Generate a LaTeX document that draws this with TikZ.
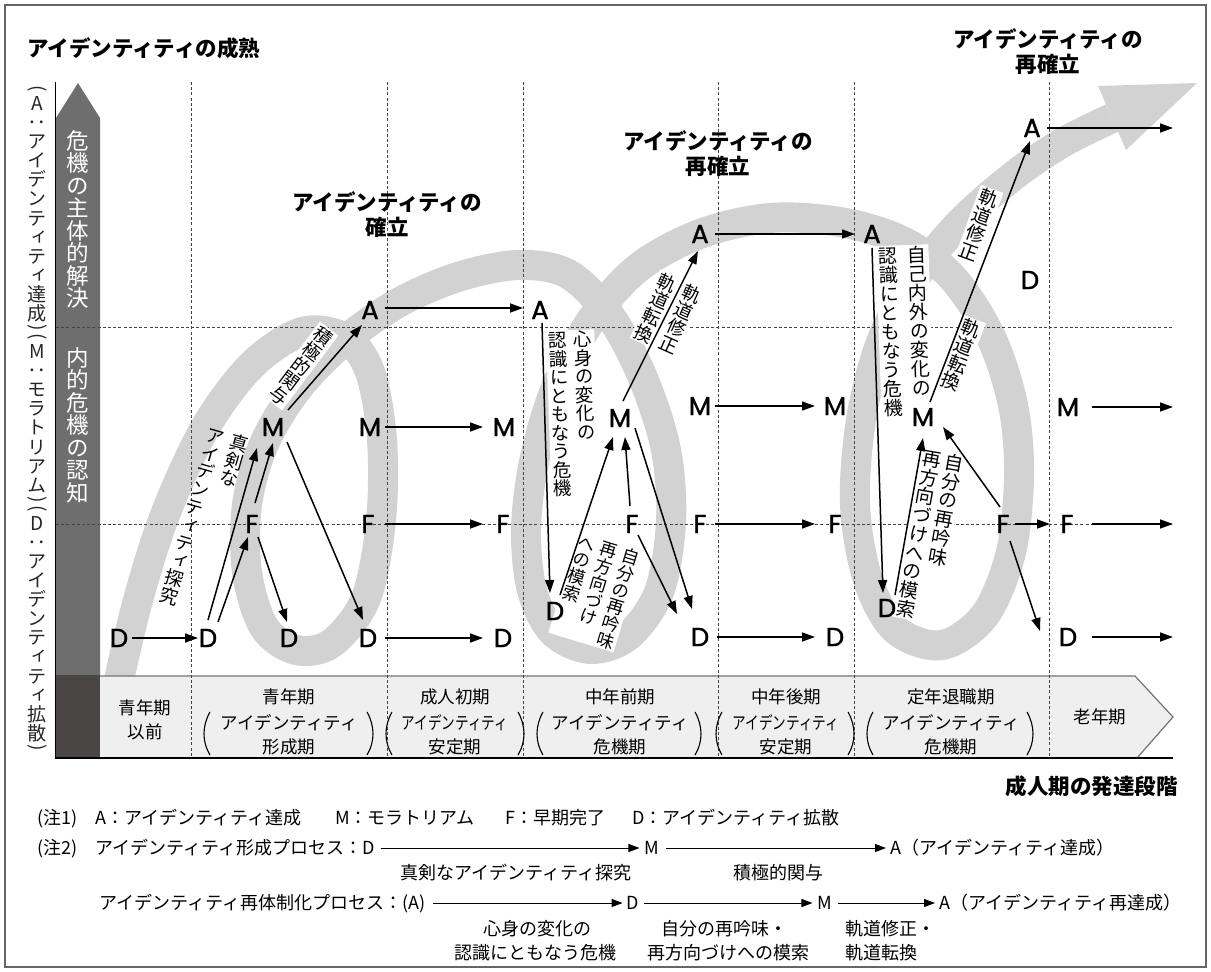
\documentclass[tikz,border=0pt]{standalone}
\usepackage{fontspec}
\usepackage{graphicx}
\setmainfont{Noto Sans CJK JP}
\newfontfamily\jpv[RawFeature=+vert]{Noto Sans CJK JP}
\newfontfamily\lat[FakeBold=1.3]{Poppins}
\usetikzlibrary{arrows.meta,calc}
\definecolor{bandc}{HTML}{D2D2D2}
\definecolor{colc}{HTML}{6E6E6E}
\definecolor{blkc}{HTML}{4A4646}
\definecolor{barc}{HTML}{EFEFEF}
\definecolor{dshc}{HTML}{444444}
\newcommand\fs[1]{\fontsize{#1}{#1}\selectfont}
\newdimen\vcw
\def\vcs{\vrule height .88em depth .12em width 0pt}
\def\vcloop#1{\ifx\relax#1\else\hbox to\vcw{\hss#1\vcs\hss}\expandafter\vcloop\fi}
\newcommand\vcol[1]{\vtop{\offinterlineskip\vcw=1.2em\vcloop#1\relax}}
\newcommand\rp[1]{\vbox{\kern1.5pt\hbox{\rotatebox{-90}{#1}}\kern1.5pt}\def\vcs{}}
\begin{document}
\begin{tikzpicture}[x=1pt,y=-1pt,
  lt/.style={font=\lat\fs{26}, inner sep=1pt},
  ar/.style={-{Triangle[length=13pt,width=9pt]}, line width=1.5pt},
  nar/.style={-{Triangle[length=11pt,width=8pt]}, line width=1pt},
  lab/.style={fill=white, inner sep=0.5pt, font=\jpv\fs{18.5}},
  dsh/.style={dshc, line width=0.9pt, dash pattern=on 3pt off 2.2pt},
  bt/.style={font=\fs{17.5}, inner sep=0pt},
  nt/.style={font=\fs{18}, inner sep=0pt, text height=15.5pt, text depth=2.5pt},
  ttl/.style={font=\bfseries\fontsize{21.5}{25}\selectfont, align=center, inner sep=0pt},
  paren/.style={line width=1.1pt}
]
\useasboundingbox (0,0) rectangle (1211,972);
\draw[black!60, line width=1.2pt] (5,5) rectangle (1206,967);

% gray band
\draw[bandc, line width=30pt, line cap=butt, line join=round] plot[smooth, tension=0.55] coordinates {
 (118,684) (138,600) (165,515) (205,428) (252,365) (302,332) (345,338) (370,372) (382,440)
 (381,520) (366,598) (332,643) (296,650) (264,627) (247,572) (247,505) (264,444) (298,388)
 (343,342) (398,303) (458,277) (518,265) (568,274) (610,316) (643,378) (666,450) (671,522)
 (659,592) (628,636) (590,649) (553,632) (532,590) (526,530) (534,462) (555,390) (590,322)
 (638,268) (700,234) (770,218) (840,222) (900,240) (950,275) (990,335) (1013,405) (1019,475)
 (1011,552) (985,615) (942,645) (896,630) (868,580) (855,505) (861,420) (880,345) (912,282)
 (958,225) (1012,177) (1062,143) (1112,118)};
\fill[bandc] (1098,86) -- (1197,83) -- (1126,150) -- cycle;

% axis column and stage bar
\fill[colc] (56,118) -- (78,83) -- (100,118) -- (100,675) -- (56,675) -- cycle;
\fill[blkc] (55,675) rectangle (100,758);
\fill[barc] (100,676) -- (1135,676) -- (1173,717) -- (1137,758) -- (100,758) -- cycle;
\draw[black!55, line width=1.2pt] (100,676) -- (1135,676) -- (1173,717) -- (1137,758);
\draw[black, line width=1.5pt] (55,758) -- (1173,758);
\draw[black, line width=0.9pt] (55,82) -- (55,758);

% dashed grid
\foreach \x in {191,387,523,718,854,1049} \draw[dsh] (\x,82) -- (\x,758);
\draw[dsh] (56,327) -- (1173,327);
\draw[dsh] (56,524) -- (1173,524);

% titles
\node[ttl, anchor=west] (ttl0) at (27,48) {アイデンティティの成熟};
\node[ttl] (ttl1) at (387,215) {アイデンティティの\\確立};
\node[ttl] (ttl2) at (718,154) {アイデンティティの\\再確立};
\node[ttl] (ttl3) at (1048,52) {アイデンティティの\\再確立};
\node[ttl, anchor=east] (ttl4) at (1178,786) {成人期の発達段階};

% column texts
\node[font=\jpv\fs{22.5}, text=white, inner sep=0pt, anchor=north] (c1) at (78,129) {\vcol{危機の主体的解決}};
\node[font=\jpv\fs{22.5}, text=white, inner sep=0pt, anchor=north] (c2) at (78,346) {\vcol{内的危機の認知}};
\node[font=\jpv\fs{19.1}, inner sep=0pt, anchor=north, text=black!85] (lax) at (37,84)
 {\vcol{{\rp{(}}A：アイデンティティ達成{\rp{)}}{\rp{(}}M：モラトリアム{\rp{)}}{\rp{(}}D：アイデンティティ拡散{\rp{)}}}};

% labels along arrows
\node[lab, rotate=-37] (L1) at (301,366) {\vcol{積極的関与}};
\node[lab, fill=none, anchor=north, rotate=-16] (L2) at (230,430) {\vcol{アイデンティティ探究}\hskip3pt\vcol{真剣な}};
\node[lab, anchor=north, rotate=2] (L3) at (570,330) {\vcol{認識にともなう危機}\hskip3pt\vcol{心身の変化の}};
\node[lab, rotate=-24] (L4) at (668,314) {\vcol{軌道転換}\hskip5pt\vcol{軌道修正}};
\node[lab, anchor=north, rotate=-17, font=\jpv\fs{17.5}] (L5) at (612,541) {\vcol{への模索}\hskip2pt\vcol{再方向づけ}\hskip2pt\vcol{自分の再吟味}};
\node[lab, anchor=north, rotate=2, font=\jpv\fs{19}] (L6) at (902,245) {\vcol{認識にともなう危機}\hskip6pt\vcol{自己内外の変化の}};
\node[lab, rotate=-20, font=\jpv\fs{19}] (L7) at (979,225) {\vcol{軌道修正}};
\node[lab, rotate=-21, font=\jpv\fs{19}] (L8) at (961,355) {\vcol{軌道転換}};
\node[lab, anchor=north, rotate=-10, font=\jpv\fs{19}] (L9) at (945,451) {\vcol{再方向づけへの模索}\vcol{自分の再吟味}};

% letters
\node[lt] (D0) at (119,638) {D};
\node[lt] (D1) at (208,638) {D};
\node[lt] (F1) at (252,524) {F};
\node[lt] (M1) at (273,427) {M};
\node[lt] (A1) at (370,310) {A};
\node[lt] (D2) at (289,638) {D};
\node[lt] (D3) at (368,638) {D};
\node[lt] (M2) at (370,427) {M};
\node[lt] (F2) at (368,524) {F};
\node[lt] (A2) at (540,310) {A};
\node[lt] (M3) at (504,427) {M};
\node[lt] (F3) at (503,524) {F};
\node[lt] (D4) at (503,638) {D};
\node[lt] (D5) at (555,611) {D};
\node[lt] (M4) at (620,418) {M};
\node[lt] (F4) at (632,524) {F};
\node[lt] (A3) at (700,234) {A};
\node[lt] (D6) at (700,637) {D};
\node[lt] (M5) at (700,406) {M};
\node[lt] (F5) at (700,524) {F};
\node[lt] (A4) at (872,234) {A};
\node[lt] (M6) at (835,406) {M};
\node[lt] (F6) at (835,524) {F};
\node[lt] (D7) at (835,637) {D};
\node[lt] (D8) at (887,608) {D};
\node[lt] (M7) at (923,417) {M};
\node[lt] (F7) at (1003,524) {F};
\node[lt] (A5) at (1032,128) {A};
\node[lt] (DX) at (1030,280) {D};
\node[lt] (M8) at (1068,407) {M};
\node[lt] (F8) at (1067,524) {F};
\node[lt] (D9) at (1068,637) {D};
\coordinate (e0) at (1040,631);
\coordinate (e1) at (1173,128);
\coordinate (e2) at (1173,407);
\coordinate (e3) at (1173,524);
\coordinate (e4) at (1173,637);

% arrows
\draw[ar] ($(D0)+(13,0)$) -- ($(D1)+(-10,0)$);
\draw[ar] ($(D1)+(0,-18)$) -- ($(M1)+(-16,21)$);
\draw[ar] ($(D1)+(10,-16)$) -- ($(F1)+(-4,13)$);
\draw[ar] ($(F1)+(3,-21)$) -- ($(M1)+(0,16)$);
\draw[ar] ($(M1)+(15,-17)$) -- ($(A1)+(-8,15)$);
\draw[ar] ($(F1)+(6,13)$) -- ($(D2)+(-2,-16)$);
\draw[ar] ($(M1)+(14,15)$) -- ($(D3)+(-5,-18)$);
\draw[ar] ($(A1)+(15,-2)$) -- ($(A2)+(-17,-2)$);
\draw[ar] ($(M2)+(15,0)$) -- ($(M3)+(-21,0)$);
\draw[ar] ($(F2)+(17,0)$) -- ($(F3)+(-20,0)$);
\draw[ar] ($(D3)+(17,0)$) -- ($(D4)+(-20,0)$);
\draw[ar] ($(A2)+(2,13)$) -- ($(D5)+(-5,-18)$);
\draw[ar] ($(D5)+(5,-16)$) -- ($(M4)+(-7,19)$);
\draw[ar] ($(F4)+(-2,-18)$) -- ($(M4)+(5,19)$);
\draw[ar] ($(M4)+(3,-17)$) -- ($(A3)+(-2,17)$);
\draw[ar] ($(M4)+(15,10)$) -- ($(D6)+(-8,-28)$);
\draw[ar] ($(F4)+(6,11)$) -- ($(D6)+(-23,-23)$);
\draw[ar] ($(A3)+(15,0)$) -- ($(A4)+(-17,0)$);
\draw[ar] ($(M5)+(15,0)$) -- ($(M6)+(-20,0)$);
\draw[ar] ($(F5)+(15,0)$) -- ($(F6)+(-20,0)$);
\draw[ar] ($(D6)+(17,0)$) -- ($(D7)+(-20,0)$);
\draw[ar] ($(A4)+(0,14)$) -- ($(D8)+(-4,-15)$);
\draw[ar] ($(D8)+(8,-13)$) -- ($(M7)+(0,21)$);
\draw[ar] ($(M7)+(7,-15)$) -- ($(A5)+(-2,13)$);
\draw[ar] ($(F7)+(-3,-17)$) -- ($(M7)+(20,10)$);
\draw[ar] ($(F7)+(12,0)$) -- ($(F8)+(-17,0)$);
\draw[ar] ($(F7)+(7,17)$) -- (e0);
\draw[ar] ($(A5)+(15,0)$) -- (e1);
\draw[ar] ($(M8)+(24,0)$) -- (e2);
\draw[ar] ($(F8)+(25,0)$) -- (e3);
\draw[ar] ($(D9)+(24,0)$) -- (e4);

% stage bar texts
\node[bt] (s1a) at (145,708) {青年期};
\node[bt] (s1b) at (145,732) {以前};
\node[bt] (s2a) at (289,697) {青年期};
\node[bt] (s2b) at (289,723) {アイデンティティ};
\node[bt] (s2c) at (289,747) {形成期};
\node[bt] (s3a) at (455,697) {成人初期};
\node[bt] (s3b) at (455,723) {\scalebox{0.78}[1]{アイデンティティ}};
\node[bt] (s3c) at (455,747) {安定期};
\node[bt] (s4a) at (620,697) {中年前期};
\node[bt] (s4b) at (620,723) {アイデンティティ};
\node[bt] (s4c) at (620,747) {危機期};
\node[bt] (s5a) at (786,697) {中年後期};
\node[bt] (s5b) at (786,723) {\scalebox{0.78}[1]{アイデンティティ}};
\node[bt] (s5c) at (786,747) {安定期};
\node[bt] (s6a) at (951,697) {定年退職期};
\node[bt] (s6b) at (951,723) {アイデンティティ};
\node[bt] (s6c) at (951,747) {危機期};
\node[bt] (s7a) at (1100,717) {老年期};
\foreach \l/\r in {210/367, 392/518, 543/695, 722/848, 873/1027}{
  \draw[paren] (\l,712) .. controls (\l-8,726) and (\l-8,742) .. (\l,755);
  \draw[paren] (\r,712) .. controls (\r+8,726) and (\r+8,742) .. (\r,755);
}

% notes
\node[nt, anchor=west] (n1a) at (37,818) {(注1)};
\node[nt, anchor=west] (n1b) at (95,818) {A：アイデンティティ達成};
\node[nt, anchor=west] (n1c) at (335,818) {M：モラトリアム};
\node[nt, anchor=west] (n1d) at (505,818) {F：早期完了};
\node[nt, anchor=west] (n1e) at (632,818) {D：アイデンティティ拡散};
\node[nt, anchor=west] (n2a) at (37,848) {(注2)};
\node[nt, anchor=west] (n2b) at (95,848) {アイデンティティ形成プロセス：D};
\node[nt] (n2m) at (652,848) {M};
\node[nt, anchor=west] (n2c) at (890,848) {A（アイデンティティ達成）};
\draw[nar] ($(n2b.east)+(6,0)$) -- ($(n2m.west)+(-5,0)$);
\draw[nar] ($(n2m.east)+(6,0)$) -- ($(n2c.west)+(-4,0)$);
\node[nt] (n3a) at (516,873) {真剣なアイデンティティ探究};
\node[nt] (n3b) at (778,873) {積極的関与};
\node[nt, anchor=west] (n4a) at (99,903) {アイデンティティ再体制化プロセス：(A)};
\node[nt] (n4d) at (633,903) {D};
\node[nt] (n4m) at (825,903) {M};
\node[nt, anchor=west] (n4c) at (939,903) {A（アイデンティティ再達成）};
\draw[nar] ($(n4a.east)+(8,0)$) -- ($(n4d.west)+(-4,0)$);
\draw[nar] ($(n4d.east)+(5,0)$) -- ($(n4m.west)+(-5,0)$);
\draw[nar] ($(n4m.east)+(5,0)$) -- ($(n4c.west)+(-4,0)$);
\node[nt] (n5a) at (537,929) {心身の変化の};
\node[nt] (n6a) at (535,953) {認識にともなう危機};
\node[nt] (n5b) at (724,929) {自分の再吟味・};
\node[nt] (n6b) at (728,953) {再方向づけへの模索};
\node[nt, anchor=west] (n5c) at (845,929) {軌道修正・};
\node[nt, anchor=west] (n6c) at (845,953) {軌道転換};
\end{tikzpicture}
\end{document}
